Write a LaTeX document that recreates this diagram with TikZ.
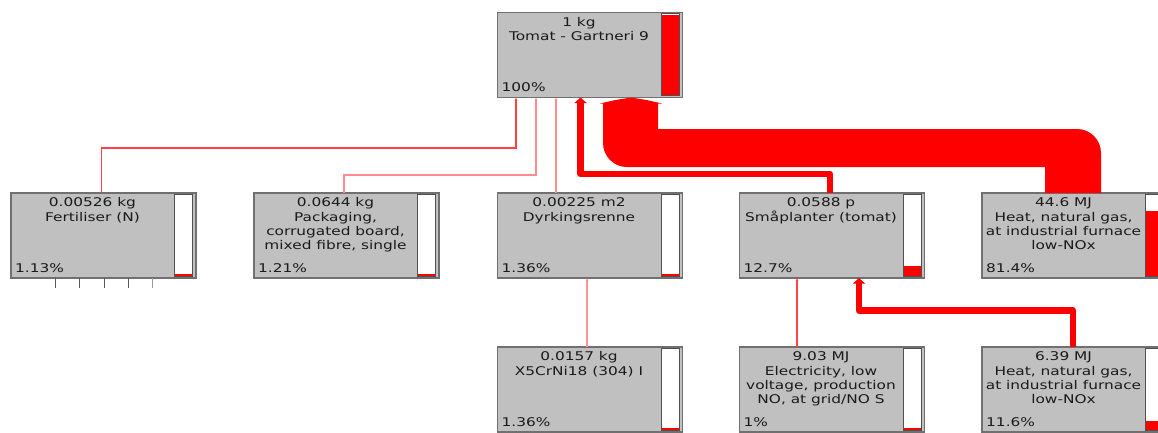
\documentclass[tikz,border=0pt]{standalone}
\usepackage{fontspec}
\setmainfont[FakeStretch=1.28]{DejaVu Sans}
\usetikzlibrary{arrows.meta}
\definecolor{boxfill}{HTML}{C0C0C0}
\definecolor{boxline}{HTML}{707070}
\definecolor{barline}{HTML}{505050}
\definecolor{txt}{HTML}{1A1A1A}
\definecolor{flow}{HTML}{FF0000}
\tikzset{
  pbox/.style={draw=boxline, fill=boxfill, line width=1.3pt, minimum width=185pt,
    minimum height=85pt, inner sep=0pt, outer sep=0pt, anchor=north west},
  ttl/.style={font=\fontsize{12}{14}\selectfont, text=txt, inner sep=0pt, anchor=base},
  pct/.style={font=\fontsize{12}{14}\selectfont, text=txt, inner sep=0pt, anchor=base west},
  barframe/.style={draw=barline, line width=1pt},
  thinflow/.style={line width=1.1pt, -{Latex[length=3pt,width=3pt]}},
  thickflow/.style={line width=6.5pt, draw=flow, line join=round, -{Triangle[length=5.5pt,width=12pt]}},
  stub/.style={line width=1pt}
}
\newcommand\procbox[6]{%
  \node[pbox] (#1) at (#2,#3) {};
  \path[fill=white] ([xshift=-21.5pt,yshift=-1.3pt]#1.north east) rectangle ([xshift=-3.5pt,yshift=1.6pt]#1.south east);
  \draw[barframe] ([xshift=-21.5pt,yshift=-1.3pt]#1.north east) rectangle ([xshift=-3.5pt,yshift=1.6pt]#1.south east);
  \fill[flow] ([xshift=-21pt,yshift=2.1pt]#1.south east) rectangle ([xshift=-4pt,yshift={2.1pt+max(2,80*#6)*1pt}]#1.south east);
  \foreach \ln [count=\i] in {#4} {
    \pgfmathsetmacro\dy{13.7+14.3*(\i-1)}
    \node[ttl] (#1-l\i) at ([xshift=81.5pt,yshift=-\dy pt]#1.north west) {\ln};
  }
  \node[pct] (#1-p) at ([xshift=4pt,yshift=5.6pt]#1.south west) {#5};
}
\begin{document}
\begin{tikzpicture}[x=1pt,y=-1pt]
\useasboundingbox (0,0) rectangle (1158,432);
\clip (0,0) rectangle (1158,432);
\fill[white] (0,0) rectangle (1158,432);

\procbox{top}{497.5}{12.5}{{1 kg},{Tomat - Gartneri 9}}{100\%}{1}
\procbox{fert}{11}{193}{{0.00526 kg},{Fertiliser (N)}}{1.13\%}{0.0113}
\procbox{pack}{254}{193}{{0.0644 kg},{Packaging,},{corrugated board,},{mixed fibre, single}}{1.21\%}{0.0121}
\procbox{dyrk}{497.5}{193}{{0.00225 m2},{Dyrkingsrenne}}{1.36\%}{0.0136}
\procbox{sma}{739.5}{193}{{0.0588 p},{Småplanter (tomat)}}{12.7\%}{0.127}
\procbox{heat}{982}{193}{{44.6 MJ},{Heat, natural gas,},{at industrial furnace},{low-NOx}}{81.4\%}{0.814}
\procbox{xcr}{497.5}{347}{{0.0157 kg},{X5CrNi18 (304) I}}{1.36\%}{0.0136}
\procbox{elec}{739.5}{347}{{9.03 MJ},{Electricity, low},{voltage, production},{NO, at grid/NO S}}{1\%}{0.01}
\procbox{heatb}{982}{347}{{6.39 MJ},{Heat, natural gas,},{at industrial furnace},{low-NOx}}{11.6\%}{0.116}

% stubs below fertiliser
\foreach \sx/\sc in {44/black!65, 68.3/black!65, 93.3/black!65, 117.3/black!65, 141.7/black!40}
  \draw[stub, draw=\sc] ([xshift=\sx pt]fert.south west) -- ++(0,10);

% thin connectors
\draw[thinflow, draw=red!75, color=red!75] ([xshift=90.5pt]fert.north west) |- (516,148) -- ([xshift=18.5pt]top.south west);
\draw[thinflow, draw=red!45, color=red!45] ([xshift=90pt]pack.north west) |- (536,175) -- ([xshift=38.5pt]top.south west);
\draw[thinflow, draw=red!45, color=red!45] ([xshift=58.5pt]dyrk.north west) -- ([xshift=58.5pt]top.south west);
\draw[thinflow, draw=red!42, color=red!42] ([xshift=89.5pt]xcr.north west) -- ([xshift=89.5pt]dyrk.south west);
\draw[thinflow, draw=red!72, color=red!72] ([xshift=57.5pt]elec.north west) -- ([xshift=57.5pt]sma.south west);

% thick connectors
\draw[thickflow] ([xshift=90.5pt]sma.north west) |- (580.5,174) -- ([xshift=83pt]top.south west);
\draw[thickflow] ([xshift=91pt]heatb.north west) |- (859,310.5) -- ([xshift=119.5pt]sma.south west);

% very thick band from heat to top
\fill[flow] ([xshift=63pt]heat.north west) -- (1045,167) -- (627,167)
  .. controls (613.7,167) and (603,156.3) .. (603,143) -- (603,103) -- (658,103) -- (658,129)
  -- (1077,129) .. controls (1090.3,129) and (1101,139.7) .. (1101,153)
  -- ([xshift=119pt]heat.north west) -- cycle;
\fill[flow] ([xshift=102.5pt,yshift=-6pt]top.south west) -- ([xshift=118pt,yshift=-2.5pt]top.south west)
  -- ([xshift=133.5pt]top.south west) -- ([xshift=149pt,yshift=-2.5pt]top.south west)
  -- ([xshift=164.5pt,yshift=-6pt]top.south west) -- cycle;
\end{tikzpicture}
\end{document}
